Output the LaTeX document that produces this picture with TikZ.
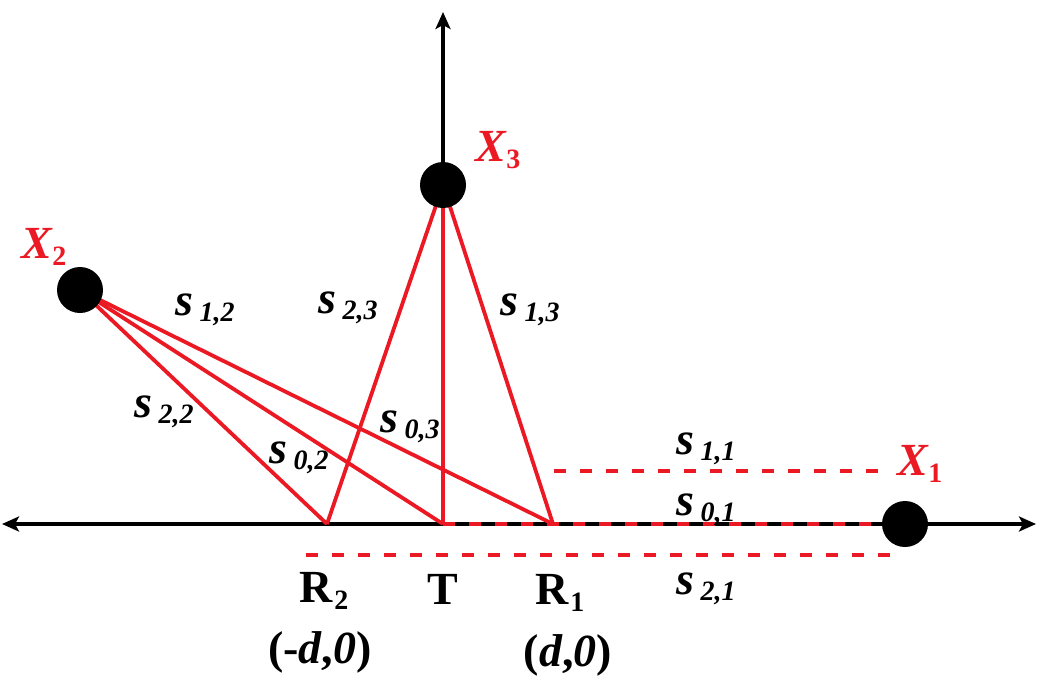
\documentclass[tikz,border=0pt]{standalone}
\usepackage{fontspec}
\setmainfont{Liberation Serif}
\usetikzlibrary{arrows.meta}
\definecolor{lred}{RGB}{235,25,35}
\newcommand{\sv}[1]{\textbf{\textit{s}}\kern0.14em\raisebox{-0.3ex}{\fontsize{28}{28}\selectfont\bfseries\itshape #1}}
\newcommand{\xv}[1]{\textbf{\textit{X}}\kern-0.02em\raisebox{-0.3ex}{\fontsize{28}{28}\selectfont\bfseries #1}}
\newcommand{\rv}[1]{\textbf{R}\kern0.02em\raisebox{-0.3ex}{\fontsize{28}{28}\selectfont\bfseries #1}}
\begin{document}
\begin{tikzpicture}[x=1pt,y=-1pt,
  axis/.style={line width=3.5pt, black, -{Stealth[length=17pt,width=15pt,inset=4pt]}},
  ray/.style={line width=3.8pt, lred},
  dashray/.style={line width=4.5pt, lred, dash pattern=on 12pt off 14pt},
  dot/.style={circle, fill=black, minimum size=46pt, inner sep=0pt},
  lab/.style={font=\fontsize{46}{50}\selectfont, inner sep=0pt},
  xlab/.style={lab, text=lred}]
\useasboundingbox (0,0) rectangle (1057,681);
\coordinate (p1) at (905,524);
\coordinate (p2) at (80,290);
\coordinate (p3) at (443,185);
\coordinate (r2) at (327,524);
\coordinate (t) at (443,524);
\coordinate (r1) at (553,524);
\coordinate (aL) at (2,524);
\coordinate (aR) at (1036,524);
\coordinate (aU) at (443,12);
\coordinate (u1) at (554,471);
\coordinate (u2) at (878,471);
\coordinate (l1) at (306,555);
\coordinate (l2) at (904,555);
% axes
\draw[axis] (t) -- (aL);
\draw[axis] (t) -- (aR);
\draw[axis] (t) -- (aU);
% rays
\draw[ray] (p3) -- (r2);
\draw[ray] (p3) -- (t);
\draw[ray] (p3) -- (r1);
\draw[ray] (p2) -- (r2);
\draw[ray] (p2) -- (t);
\draw[ray] (p2) -- (r1);
% dashed
\draw[dashray] (u1) -- (u2);
\draw[dashray] (t) -- (p1);
\draw[dashray] (l1) -- (l2);
% dots
\node[dot] (x1) at (p1) {};
\node[dot] (x2) at (p2) {};
\node[dot] (x3) at (p3) {};
% labels
\node[xlab] (lx1) at (920,464) {\xv{1}};
\node[xlab] (lx2) at (44,247) {\xv{2}};
\node[xlab] (lx3) at (498,150) {\xv{3}};
\node[lab] (s12) at (205,310) {\sv{1,2}};
\node[lab] (s23) at (348,308) {\sv{2,3}};
\node[lab] (s13) at (530,310) {\sv{1,3}};
\node[lab] (s22) at (164,412) {\sv{2,2}};
\node[lab] (s03) at (410,427) {\sv{0,3}};
\node[lab] (s02) at (299,458) {\sv{0,2}};
\node[lab] (s11) at (706,449) {\sv{1,1}};
\node[lab] (s01) at (706,510) {\sv{0,1}};
\node[lab] (s21) at (706,589) {\sv{2,1}};
\node[lab] (lr2) at (324,591) {\rv{2}};
\node[lab] (lt) at (443,589) {\textbf{T}};
\node[lab] (lr1) at (560,593) {\rv{1}};
\node[lab] (c2) at (320,652) {\textbf{(-\textit{d},\textit{0})}};
\node[lab] (c1) at (568,655) {\textbf{(\textit{d},\textit{0})}};
\end{tikzpicture}
\end{document}
